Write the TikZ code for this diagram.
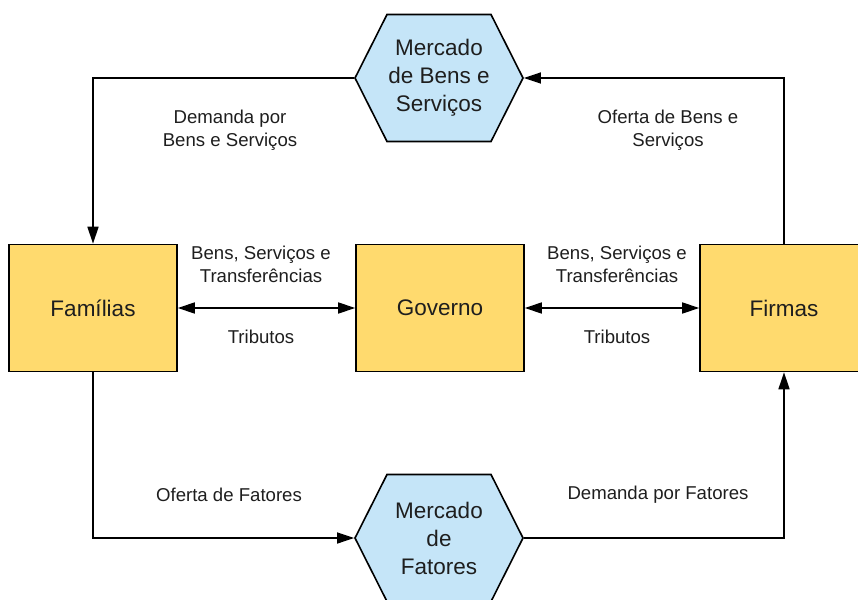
\documentclass[tikz,border=0pt]{standalone}
\usepackage{fontspec}
\setmainfont{Liberation Sans}
\usetikzlibrary{shapes.symbols, arrows.meta, positioning}
\definecolor{boxyellow}{HTML}{FFDA6E}
\definecolor{hexblue}{HTML}{C5E5F8}
\definecolor{inkgray}{HTML}{1E1E1E}

\begin{document}
\begin{tikzpicture}[x=1pt, y=-1pt, line width=1.6pt, >={Triangle[length=17pt, width=11pt]},
    agent/.style={draw, fill=boxyellow, minimum width=168pt, minimum height=127pt, text=inkgray, font=\fontsize{22.5}{27}\selectfont},
    market/.style={draw, fill=hexblue, shape=signal, signal to=east and west, signal pointer angle=126.5, minimum width=168pt, minimum height=127pt, inner sep=0pt, align=center, text=inkgray, font=\fontsize{22.5}{28}\selectfont},
    flow/.style={align=center, text=inkgray, font=\fontsize{18.6}{23}\selectfont}]

    \useasboundingbox (0,0) rectangle (858,599);

    % Define the agents (nodes)
    \node[agent] (fam) at (93,308) {Famílias};
    \node[agent] (gov) at (440,308) {Governo};
    \node[agent] (fir) at (784,308) {Firmas};
    % Define the markets
    \node[market] (mbs) at (439,78) {Mercado\\de Bens e\\Serviços};
    \node[market] (mf) at (439,538) {Mercado\\de\\Fatores};

    % Define the flows (edges)
    \draw[->] (mbs.west) -| (fam.north);
    \draw[->] (fir.north) |- (mbs.east);
    \draw[->] (fam.south) |- (mf.west);
    \draw[->] (mf.east) -| (fir.south);
    \draw[<->] (fam) -- (gov);
    \draw[<->] (gov) -- (fir);

    % Flow labels
    \node[flow] (dbs) at (230,130) {Demanda por\\Bens e Serviços};
    \node[flow] (obs) at (668,130) {Oferta de Bens e\\Serviços};
    \node[flow] (bst1) at (261,264) {Bens, Serviços e\\Transferências};
    \node[flow] (trib1) at (261,337) {Tributos};
    \node[flow] (bst2) at (617,264) {Bens, Serviços e\\Transferências};
    \node[flow] (trib2) at (617,337) {Tributos};
    \node[flow] (of) at (229,495) {Oferta de Fatores};
    \node[flow] (df) at (658,495) {Demanda por Fatores};

\end{tikzpicture}
\end{document}
